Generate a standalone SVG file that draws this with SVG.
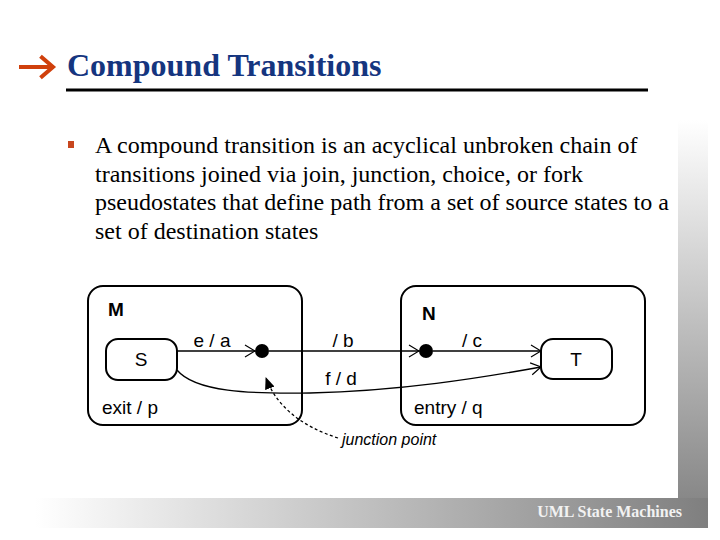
<svg xmlns="http://www.w3.org/2000/svg" width="720" height="540" viewBox="0 0 720 540">
<defs>
<linearGradient id="gv" x1="0" y1="0" x2="0" y2="1">
<stop offset="0" stop-color="#ffffff"/>
<stop offset="1" stop-color="#888888"/>
</linearGradient>
<linearGradient id="gh" x1="0" y1="0" x2="1" y2="0">
<stop offset="0.05" stop-color="#ffffff"/>
<stop offset="1" stop-color="#7f7f7f"/>
</linearGradient>
<marker id="open" viewBox="0 0 12 14" refX="11" refY="7" markerWidth="12" markerHeight="14" markerUnits="userSpaceOnUse" orient="auto">
<path d="M1,1 L11,7 L1,13" fill="none" stroke="#000" stroke-width="1.2"/>
</marker>
<marker id="filled" viewBox="0 0 12 10" refX="11" refY="5" markerWidth="12" markerHeight="10" markerUnits="userSpaceOnUse" orient="auto">
<path d="M0,0 L12,5 L0,10 Z" fill="#000"/>
</marker>
</defs>
<style>
.title{font-family:"Liberation Serif",serif;font-weight:bold;font-size:32px;fill:#15357f}
.body{font-family:"Liberation Serif",serif;font-size:24px;fill:#000}
.lbl{font-family:"Liberation Sans",Arial,sans-serif;font-size:19px;fill:#000}
.jp{font-family:"Liberation Sans",Arial,sans-serif;font-size:16px;font-style:italic;fill:#000}
.bold{font-weight:bold}
.state{fill:#fff;stroke:#000;stroke-width:2}
.tr{fill:none;stroke:#000;stroke-width:1.3}
.foot{font-family:"Liberation Serif",serif;font-weight:bold;font-size:16px;fill:#f2f2f2}
</style>
<rect width="720" height="540" fill="#fff"/>
<rect x="678" y="120" width="30" height="378" fill="url(#gv)"/>
<rect x="0" y="498" width="708" height="30" fill="url(#gh)"/>
<text class="foot" x="682" y="517" text-anchor="end">UML State Machines</text>

<path d="M21,67 L50,67 M42,57.5 L53,67 L42,76.5" fill="none" stroke="#d0400c" stroke-width="4" stroke-linecap="square"/>
<text class="title" x="67" y="76">Compound Transitions</text>
<rect x="66" y="88.5" width="582" height="3" fill="#000"/>

<rect x="68" y="141" width="6" height="7" fill="#c8461e"/>
<text class="body" x="95" y="153">A compound transition is an acyclical unbroken chain of</text>
<text class="body" x="95" y="182">transitions joined via join, junction, choice, or fork</text>
<text class="body" x="95" y="210">pseudostates that define path from a set of source states to a</text>
<text class="body" x="95" y="239">set of destination states</text>

<g id="M">
<rect class="state" x="88" y="286" width="214" height="139" rx="15"/>
<text class="lbl bold" x="108" y="316">M</text>
<text class="lbl" x="102" y="414">exit / p</text>
</g>
<g id="S">
<rect class="state" x="106" y="339" width="71" height="41" rx="12"/>
<text class="lbl" x="141" y="366" text-anchor="middle">S</text>
</g>
<g id="N">
<rect class="state" x="401" y="286" width="244" height="139" rx="15"/>
<text class="lbl bold" x="422" y="320">N</text>
<text class="lbl" x="414" y="414">entry /  q</text>
</g>
<g id="T">
<rect class="state" x="541" y="339" width="71" height="40" rx="12"/>
<text class="lbl" x="576" y="366" text-anchor="middle">T</text>
</g>
<g id="J1"><circle cx="262" cy="351" r="7" fill="#000"/></g>
<g id="J2"><circle cx="426" cy="351" r="7" fill="#000"/></g>
<g id="junction-label">
<text class="jp" x="342" y="445">junction point</text>
</g>

<g id="connectors">
<path class="tr" d="M177,351 L255,351" marker-end="url(#open)"/>
<path class="tr" d="M269,351 L419,351" marker-end="url(#open)"/>
<path class="tr" d="M433,351 L541,351" marker-end="url(#open)"/>
<path class="tr" d="M177,370 C195,392 250,394 310,393 C400,391 480,378 541,367" marker-end="url(#open)"/>
<path class="tr" d="M338,438 C300,426 276,405 266,378" stroke-dasharray="3,2.5" marker-end="url(#filled)"/>
<text class="lbl" x="212" y="347" text-anchor="middle">e / a</text>
<text class="lbl" x="343" y="347" text-anchor="middle">/ b</text>
<text class="lbl" x="472" y="347" text-anchor="middle">/ c</text>
<text class="lbl" x="341" y="385" text-anchor="middle">f / d</text>
</g>
</svg>
